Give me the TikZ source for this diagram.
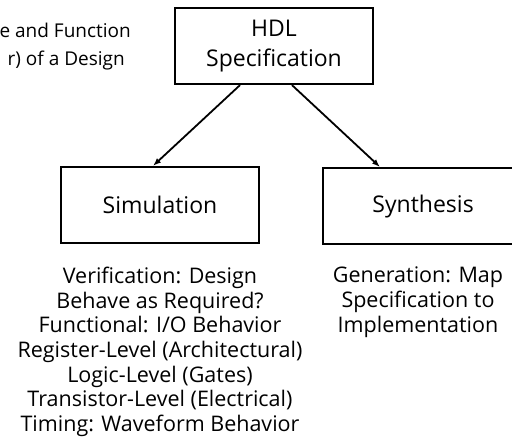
\documentclass[tikz,border=0pt]{standalone}
\usepackage{fontspec}
\setmainfont{Open Sans}
\usetikzlibrary{arrows.meta}
\begin{document}
\begin{tikzpicture}[x=1pt,y=-1pt,
  box/.style={draw, line width=2.2pt, minimum width=198pt, minimum height=76pt, inner sep=0pt, align=center, font=\fontsize{23}{30}\selectfont},
  arr/.style={line width=1.8pt, -{Latex[length=8pt,width=6pt]}},
  txt/.style={align=center, font=\fontsize{21.5}{24.6}\selectfont, inner sep=0pt},
  note/.style={font=\fontsize{19}{24.8}\selectfont, inner sep=0pt}]
\useasboundingbox (0,0) rectangle (512,437);
\fill[white] (0,0) rectangle (512,437);
\node[box] (hdl) at (274,46) {HDL\\Specification};
\node[box] (sim) at (160,205) {Simulation};
\node[box, minimum width=200pt, anchor=north west] (syn) at (322,167) {Synthesis};
\draw[arr] ([xshift=-34pt]hdl.south) -- ([xshift=-7pt]sim.north);
\draw[arr] ([xshift=18pt]hdl.south) -- ([xshift=58pt]syn.north west);
\node[note, anchor=base east] (t1) at (131,37) {e and Function};
\node[note, anchor=base east] (t2) at (125,65) {r) of a Design};
\node[txt, anchor=north] (simtxt) at (160,267) {Verification: Design\\Behave as Required?\\Functional: I/O Behavior\\Register-Level (Architectural)\\Logic-Level (Gates)\\Transistor-Level (Electrical)\\Timing: Waveform Behavior};
\node[txt, anchor=north] (syntxt) at (418,267) {Generation: Map\\Specification to\\Implementation};
\end{tikzpicture}
\end{document}
